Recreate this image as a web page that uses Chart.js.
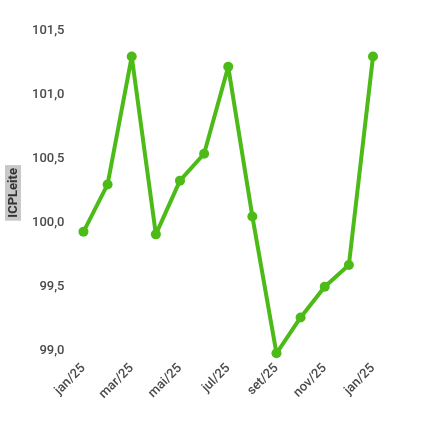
<!DOCTYPE html>
<html>
<head>
<meta charset="utf-8">
<script src="https://cdn.jsdelivr.net/npm/chart.js@4"></script>
<style>
  html, body { margin: 0; padding: 0; background: #fff; }
  #wrap { width: 433px; height: 427px; }
</style>
</head>
<body>
<div id="wrap"><canvas id="c" width="433" height="427"></canvas></div>
<script>
const labels = ["jan/25", "fev/25", "mar/25", "abr/25", "mai/25", "jun/25", "jul/25",
  "ago/25", "set/25", "out/25", "nov/25", "dez/25", "jan/25"]
const values = [99.93, 100.30, 101.30, 99.91, 100.33, 100.54, 101.22,
  100.05, 98.98, 99.26, 99.50, 99.67, 101.30]
const yTicks = [99.0, 99.5, 100.0, 100.5, 101.0, 101.5]
const yTitle = "ICPLeite"

const green = "#4cbb17"

// gray box behind the rotated axis title
const titleBox = {
  id: "titleBox",
  afterDraw(chart) {
    const { ctx, chartArea } = chart
    const cy = (chartArea.top + chartArea.bottom) / 2 + 2
    ctx.save()
    ctx.font = "bold 13px Roboto"
    const w = ctx.measureText(yTitle).width
    ctx.translate(13, cy)
    ctx.rotate(-Math.PI / 2)
    ctx.fillStyle = "#c8c8c8"
    ctx.fillRect(-w / 2 - 3, -8, w + 6, 16)
    ctx.fillStyle = "#333"
    ctx.textAlign = "center"
    ctx.textBaseline = "middle"
    ctx.fillText(yTitle, 0, 1)
    ctx.restore()
  },
}

new Chart(document.getElementById("c"), {
  type: "line",
  data: {
    labels: labels,
    datasets: [{
      data: values,
      borderColor: green,
      backgroundColor: green,
      borderWidth: 4,
      borderJoinStyle: "round",
      borderCapStyle: "round",
      pointRadius: 5,
      pointBackgroundColor: green,
      pointBorderWidth: 0,
      tension: 0,
      clip: false,
    }],
  },
  options: {
    responsive: false,
    animation: false,
    layout: { padding: { left: 13, right: 60, top: 31, bottom: 15 } },
    plugins: { legend: { display: false }, tooltip: { enabled: false } },
    scales: {
      x: {
        offset: false,
        grid: { display: false, drawTicks: false },
        border: { display: false },
        ticks: {
          autoSkip: false,
          minRotation: 45,
          maxRotation: 45,
          padding: 10,
          color: "#4a4a4a",
          font: { family: "Roboto", size: 13, weight: "500" },
          callback: (v, i) => (i % 2 === 0 ? labels[i] : ""),
        },
      },
      y: {
        min: 99,
        max: 101.5,
        grid: { display: false, drawTicks: false },
        border: { display: false },
        afterBuildTicks: (axis) => { axis.ticks = yTicks.map(v => ({ value: v })) },
        ticks: {
          padding: 19,
          color: "#4a4a4a",
          font: { family: "Roboto", size: 13, weight: "500" },
          callback: (v) => v.toFixed(1).replace(".", ","),
        },
      },
    },
  },
  plugins: [titleBox],
})
</script>
</body>
</html>
